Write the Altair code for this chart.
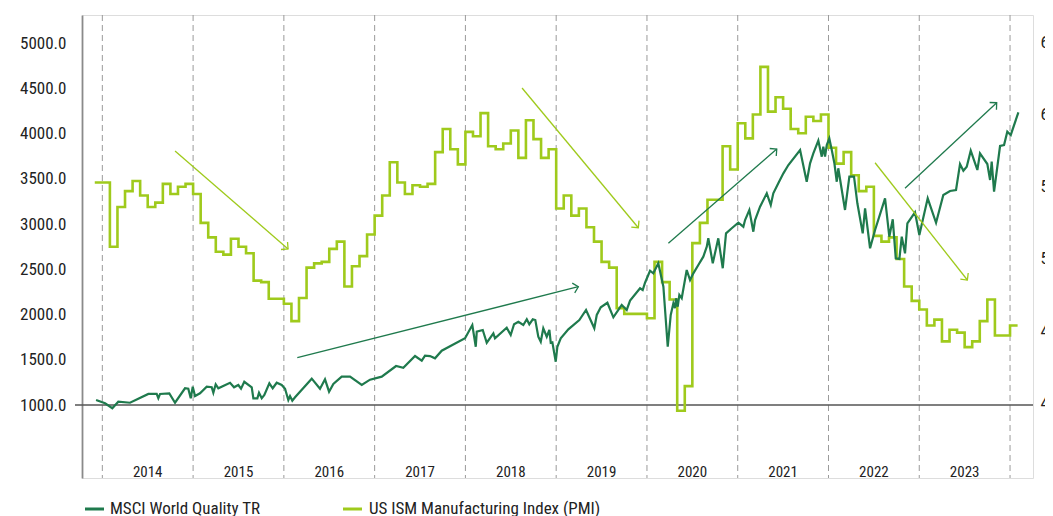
import math
import altair as alt
import pandas as pd

# ---------------- data ----------------
year_labels = ["2014", "2015", "2016", "2017", "2018", "2019", "2020", "2021", "2022", "2023"]
divider_years = [2014, 2015, 2016, 2017, 2018, 2019, 2020, 2021, 2022, 2023, 2024]
left_ticks = [1000, 1500, 2000, 2500, 3000, 3500, 4000, 4500, 5000]
right_ticks = [40, 45, 50, 55, 60, 65]

# US ISM Manufacturing Index, monthly, Nov 2013 .. Jan 2024
pmi_first_month = "2013-11"
pmi_values = [
    55.3, 55.3,
    50.85, 53.6, 54.7, 55.4, 54.4, 53.6, 53.9, 55.2, 54.5, 55.0, 55.2, 54.5,
    52.5, 51.5, 50.5, 50.3, 51.4, 50.85, 50.4, 48.5, 48.4, 47.25, 47.25, 46.9,
    45.7, 47.3, 49.4, 49.7, 49.8, 50.7, 51.2, 48.1, 49.5, 50.2, 51.7, 53.0,
    54.4, 56.7, 55.3, 54.5, 55.1, 55.0, 55.2, 57.4, 59.0, 57.6, 56.55, 58.8,
    58.5, 60.1, 57.8, 57.6, 58.0, 58.9, 57.0, 59.6, 58.3, 57.0, 57.6, 53.5,
    54.4, 53.0, 53.5, 52.2, 51.2, 49.8, 49.4, 46.6, 46.2, 46.2, 46.2, 45.9,
    49.8, 48.4, 47.2, 39.5, 41.2, 51.1, 52.5, 54.1, 54.1, 57.8, 56.2, 59.4,
    58.35, 60.0, 63.3, 60.2, 61.2, 60.4, 59.0, 58.7, 59.85, 59.55, 60.0, 57.7,
    56.6, 57.4, 55.8, 54.7, 55.0, 51.6, 51.2, 51.5, 50.0, 48.1, 47.1, 46.5,
    45.4, 45.8, 44.3, 45.1, 44.9, 43.9, 44.3, 45.7, 47.2, 44.7, 44.7, 45.4,
    45.4,
]

# MSCI World Quality TR (decimal year, index level)
msci_t = [
    2013.931, 2014.030, 2014.110, 2014.176, 2014.305, 2014.507, 2014.599, 2014.617, 2014.636, 2014.738,
    2014.801, 2014.911, 2014.947, 2014.974, 2014.996, 2015.021, 2015.076, 2015.150, 2015.205, 2015.223,
    2015.249, 2015.278, 2015.407, 2015.451, 2015.498, 2015.528, 2015.564, 2015.646, 2015.664, 2015.708,
    2015.726, 2015.756, 2015.785, 2015.840, 2015.877, 2015.921, 2015.976, 2016.013, 2016.049, 2016.068,
    2016.093, 2016.123, 2016.307, 2016.398, 2016.453, 2016.498, 2016.545, 2016.637, 2016.729, 2016.858,
    2016.949,
    2017.078, 2017.236, 2017.316, 2017.445, 2017.519, 2017.555, 2017.610, 2017.665, 2017.739, 2017.996,
    2018.076, 2018.114, 2018.125, 2018.191, 2018.235, 2018.308, 2018.326, 2018.455, 2018.499, 2018.536,
    2018.583, 2018.638, 2018.676, 2018.704, 2018.742, 2018.770, 2018.803, 2018.830, 2018.858, 2018.896,
    2018.925, 2018.940, 2018.958, 2018.995, 2019.013, 2019.050, 2019.134, 2019.255, 2019.329, 2019.420,
    2019.447, 2019.491, 2019.564, 2019.630, 2019.685, 2019.722, 2019.777, 2019.814, 2019.924, 2019.953,
    2019.979, 2020.034, 2020.070, 2020.125,
    2020.181, 2020.229, 2020.262, 2020.291, 2020.309, 2020.320, 2020.339, 2020.357, 2020.383, 2020.438,
    2020.475, 2020.511, 2020.566, 2020.621, 2020.659, 2020.676, 2020.725, 2020.786, 2020.835, 2020.871,
    2020.934, 2021.007, 2021.062, 2021.081, 2021.128, 2021.172, 2021.191, 2021.246, 2021.320, 2021.364,
    2021.392, 2021.447, 2021.503, 2021.558, 2021.687, 2021.760, 2021.797, 2021.833, 2021.888, 2021.926,
    2021.943, 2021.962, 2021.981, 2022.009, 2022.036, 2022.065, 2022.091, 2022.108, 2022.182, 2022.230,
    2022.281, 2022.318, 2022.377, 2022.403, 2022.458, 2022.513, 2022.623, 2022.670, 2022.708, 2022.741,
    2022.781, 2022.807, 2022.843, 2022.869, 2022.953, 2023.001, 2023.093, 2023.185, 2023.265, 2023.339,
    2023.405, 2023.449, 2023.486, 2023.523, 2023.567, 2023.640, 2023.669, 2023.750, 2023.780, 2023.798,
    2023.824, 2023.890, 2023.934, 2023.970, 2024.008, 2024.092,
]
msci_v = [
    1055, 1019, 964, 1036, 1025, 1122, 1122, 1074, 1122, 1129,
    1025, 1185, 1180, 1074, 1202, 1099, 1129, 1202, 1196, 1136,
    1229, 1185, 1246, 1196, 1221, 1180, 1257, 1196, 1074, 1074,
    1136, 1074, 1111, 1240, 1185, 1246, 1221, 1180, 1055, 1099,
    1048, 1085, 1291, 1180, 1284, 1147, 1232, 1313, 1313, 1221,
    1280,
    1313, 1431, 1412, 1541, 1490, 1545, 1541, 1516, 1600, 1737,
    1884, 1644, 1810, 1829, 1688, 1792, 1737, 1854, 1774, 1892,
    1920, 1884, 1947, 1892, 1947, 1939, 1755, 1699, 1848, 1755,
    1829, 1688, 1693, 1478, 1644, 1737, 1836, 1939, 2050, 1848,
    1995, 2080, 2130, 1969, 2050, 2105, 2050, 2153, 2290, 2271,
    2351, 2484, 2455, 2566,
    2307, 1644, 1995, 2124, 2069, 2179, 2086, 2216, 2179, 2492,
    2381, 2455, 2547, 2639, 2749, 2842, 2566, 2842, 2511, 2897,
    2953, 3014, 2970, 3044, 3155, 2915, 3044, 3191, 3339, 3210,
    3339, 3450, 3560, 3652, 3818, 3467, 3671, 3781, 3921, 3744,
    3854, 3744, 3873, 3947, 3818, 3671, 3467, 3616, 3155, 3523,
    3523, 3229, 2897, 3173, 2732, 2934, 3284, 2860, 3052, 2621,
    2613, 2860, 2676, 3008, 3129, 2879, 3284, 3014, 3321, 3365,
    3376, 3663, 3589, 3633, 3810, 3597, 3781, 3663, 3486, 3689,
    3357, 3862, 3873, 4020, 3984, 4234,
]

# trend arrows (in left-axis units): start/end decimal year and level
arrow_t1 = [2014.801, 2018.624, 2022.513, 2016.148, 2020.236, 2022.843]
arrow_v1 = [3807, 4503, 3677, 1523, 2787, 3395]
arrow_t2 = [2016.046, 2019.905, 2023.530, 2019.244, 2021.430, 2023.853]
arrow_v2 = [2724, 2959, 2381, 2307, 3829, 4340]
arrow_series = ["pmi", "pmi", "pmi", "msci", "msci", "msci"]

series_names = ["MSCI World Quality TR", "US ISM Manufacturing Index (PMI)"]

# ---------------- styling / layout ----------------
FONT = "Liberation Sans Narrow, Roboto Condensed, Arial Narrow, sans-serif"
C_MSCI = "#1f7a4d"
C_PMI = "#9fca1c"
C_TEXT = "#222222"
W, H = 951, 463
X_DOM = [2013.776, 2024.253]
YL_DOM = [193.4, 5309.5]
YR_DOM = [34.84, 66.89]

xs = alt.Scale(domain=X_DOM, nice=False, zero=False)
yls = alt.Scale(domain=YL_DOM, nice=False, zero=False)
yrs = alt.Scale(domain=YR_DOM, nice=False, zero=False)

# ---------------- tables ----------------
months = pd.period_range(pmi_first_month, periods=len(pmi_values), freq="M")
pmi_df = pd.DataFrame({
    "t": [p.year + p.month / 12.0 for p in months],
    "v": pmi_values,
})
msci_df = pd.DataFrame({"t": msci_t, "v": msci_v})

sx = W / (X_DOM[1] - X_DOM[0])
sy = H / (YL_DOM[1] - YL_DOM[0])
angles = []
for a, b, c, d in zip(arrow_t1, arrow_v1, arrow_t2, arrow_v2):
    dx = (c - a) * sx
    dy = -(d - b) * sy
    angles.append(math.degrees(math.atan2(dy, dx)) % 360)
arrows_df = pd.DataFrame({
    "t1": arrow_t1, "v1": arrow_v1, "t2": arrow_t2, "v2": arrow_v2,
    "c": [C_PMI if s == "pmi" else C_MSCI for s in arrow_series],
    "ang": angles,
})

div_df = pd.DataFrame({"t": divider_years})
lab_df = pd.DataFrame({"t": [int(y) + 0.5 for y in year_labels], "label": year_labels})
base_df = pd.DataFrame({"v": [1000]})

# ---------------- layers ----------------
dividers = alt.Chart(div_df).mark_rule(color="#9a9a9a", strokeWidth=1, strokeDash=[6, 4]).encode(
    x=alt.X("t:Q", scale=xs, axis=None),
    y=alt.value(0), y2=alt.value(H),
)

baseline = alt.Chart(base_df).mark_rule(color="#555555", strokeWidth=1.5).encode(
    y=alt.Y("v:Q", scale=yls, axis=None),
    x=alt.value(-7), x2=alt.value(W),
)

year_text = alt.Chart(lab_df).mark_text(
    font=FONT, fontSize=15, color=C_TEXT, align="center", baseline="middle"
).encode(
    x=alt.X("t:Q", scale=xs, axis=None),
    y=alt.value(457),
    text="label:N",
)

pmi_line = alt.Chart(pmi_df).mark_line(
    interpolate="step-after", color=C_PMI, strokeWidth=2.6
).encode(
    x=alt.X("t:Q", scale=xs, axis=None),
    y=alt.Y("v:Q", scale=yrs, axis=alt.Axis(
        orient="right", values=right_ticks, format="d", domain=False, ticks=False,
        grid=False, labelPadding=7, labelFontSize=17, labelFont=FONT,
        labelColor=C_TEXT, title=None)),
)

msci_line = alt.Chart(msci_df).mark_line(color=C_MSCI, strokeWidth=2.2).encode(
    x=alt.X("t:Q", scale=xs, axis=None),
    y=alt.Y("v:Q", scale=yls, axis=alt.Axis(
        orient="left", values=left_ticks, format=".1f", domain=True,
        domainColor="#8a8a8a", domainWidth=1.8, ticks=False, grid=False,
        labelPadding=16, labelFontSize=17, labelFont=FONT, labelColor=C_TEXT,
        title=None)),
)

arrow_lines = alt.Chart(arrows_df).mark_rule(strokeWidth=1.3).encode(
    x=alt.X("t1:Q", scale=xs, axis=None), x2="t2:Q",
    y=alt.Y("v1:Q", scale=yls, axis=None), y2="v2:Q",
    color=alt.Color("c:N", scale=None),
)

arrow_heads = alt.Chart(arrows_df).mark_point(
    shape="M-1,-1L0,0L-1,1", filled=False, size=100, strokeWidth=1.3, opacity=1
).encode(
    x=alt.X("t2:Q", scale=xs, axis=None),
    y=alt.Y("v2:Q", scale=yls, axis=None),
    angle=alt.Angle("ang:Q", scale=None),
    color=alt.Color("c:N", scale=None),
)

leg_df = pd.DataFrame({
    "name": series_names,
    "c": [C_MSCI, C_PMI],
    "x0": [3, 261], "x1": [22, 280], "xt": [28, 287],
})
leg_sw = alt.Chart(leg_df).mark_rule(strokeWidth=3).encode(
    x=alt.X("x0:Q", scale=None), x2="x1:Q",
    y=alt.value(494),
    color=alt.Color("c:N", scale=None),
)
leg_tx = alt.Chart(leg_df).mark_text(
    font=FONT, fontSize=17, color=C_TEXT, align="left", baseline="middle"
).encode(
    x=alt.X("xt:Q", scale=None),
    y=alt.value(494),
    text="name:N",
)

chart = alt.layer(
    dividers, baseline, year_text, pmi_line, msci_line, arrow_lines, arrow_heads,
    leg_sw, leg_tx,
).resolve_scale(y="independent").properties(
    width=W, height=H,
    autosize=alt.AutoSizeParams(type="none"),
    padding={"left": 74, "top": 7, "right": 12, "bottom": 38},
).configure_view(stroke=None).configure(font=FONT)

chart.save("out.html", embed_options={"renderer": "svg", "actions": False})
